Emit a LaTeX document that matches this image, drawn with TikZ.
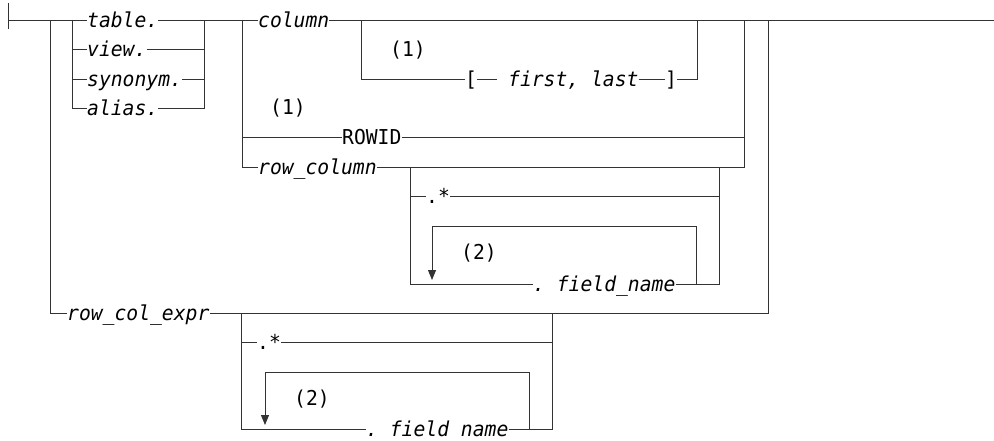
\documentclass[tikz,border=0pt]{standalone}
\usepackage{fontspec}
\setmonofont[FakeStretch=0.96]{DejaVu Sans Mono}
\usetikzlibrary{arrows.meta}
\begin{document}
\begin{tikzpicture}[x=1pt,y=-1pt,
    rr/.style={line width=0.9pt, draw=black!80},
    kw/.style={inner sep=0pt, anchor=west, text height=15pt, text depth=0pt,
      font=\ttfamily\fontsize{20.5}{23}\selectfont},
    var/.style={kw, font=\ttfamily\itshape\fontsize{20.5}{23}\selectfont},
    note/.style={inner sep=0pt, font=\ttfamily\fontsize{20.5}{23}\selectfont},
    tip/.style={rr, -{Triangle[width=8pt,length=10pt]}}]
        \useasboundingbox (0,0) rectangle (994,441);
        \coordinate (st) at (8,20);
        \coordinate (stU) at (8,3);
        \coordinate (stD) at (8,29);
        \coordinate (jA) at (50,20);
        \coordinate (jB) at (72,20);
        \coordinate (jBr) at (204,20);
        \coordinate (jC) at (242,20);
        \coordinate (jD) at (361,20);
        \coordinate (jDr) at (697,20);
        \coordinate (jCr) at (744,20);
        \coordinate (jAr) at (768,20);
        \coordinate (fin) at (994,20);
        \node[var] (tbl) at (87,20) {table.};
        \node[var] (vw) at (87,49) {view.};
        \node[var] (syn) at (87,79) {synonym.};
        \node[var] (als) at (87,108) {alias.};
        \node[var] (col) at (258,20) {column};
        \node[note] (n1a) at (408,50) {(1)};
        \node[kw] (lbr) at (465,79) {[};
        \node[var] (fl) at (508,79) {first, last};
        \node[kw] (rbr) at (665,79) {]};
        \node[note] (n1b) at (288,108) {(1)};
        \node[kw] (rid) at (342,137) {ROWID};
        \node[var] (rcol) at (258,167) {row\_column};
        \coordinate (jE) at (410,167);
        \coordinate (jEr) at (719,167);
        \node[kw] (any1) at (426,196) {.*};
        \coordinate (lp1) at (432,226);
        \coordinate (tip1) at (432,280);
        \node[note] (n2a) at (479,253) {(2)};
        \node[var] (fld1) at (533,284) {. field\_name};
        \coordinate (lp1r) at (696,284);
        \node[var] (rce) at (67,313) {row\_col\_expr};
        \coordinate (jF) at (241,313);
        \coordinate (jFr) at (552,313);
        \node[kw] (any2) at (257,342) {.*};
        \coordinate (lp2) at (265,372);
        \coordinate (tip2) at (265,425);
        \node[note] (n2b) at (312,399) {(2)};
        \node[var] (fld2) at (366,429) {. field name};
        \coordinate (lp2r) at (529,429);
        \draw[rr] (stU) -- (stD);
        \draw[rr] (st) -- (tbl.west);
        \draw[rr] (tbl.east) -- (col.west);
        \draw[rr] (col.east) -- (fin);
        \foreach \n in {vw,syn,als} {
            \draw[rr] (jB) |- (\n.west);
            \draw[rr] (\n.east) -| (jBr);
        }
        \draw[rr] (jD) |- (lbr.west);
        \draw[rr] (lbr.east) -- ([xshift=-11pt]fl.west);
        \draw[rr] (fl.east) -- (rbr.west);
        \draw[rr] (rbr.east) -| (jDr);
        \foreach \n in {rid,rcol} {
            \draw[rr] (jC) |- (\n.west);
            \draw[rr] (\n.east) -| (jCr);
        }
        \draw[rr] (jE) |- (any1.west);
        \draw[rr] (any1.east) -| (jEr);
        \draw[rr] (jE) |- (fld1.west);
        \draw[rr] (fld1.east) -| (jEr);
        \draw[tip] (lp1r) |- (lp1) -- (tip1);
        \draw[rr] (jA) |- (rce.west);
        \draw[rr] (rce.east) -| (jAr);
        \draw[rr] (jF) |- (any2.west);
        \draw[rr] (any2.east) -| (jFr);
        \draw[rr] (jF) |- (fld2.west);
        \draw[rr] (fld2.east) -| (jFr);
        \draw[tip] (lp2r) |- (lp2) -- (tip2);
    \end{tikzpicture}
\end{document}
